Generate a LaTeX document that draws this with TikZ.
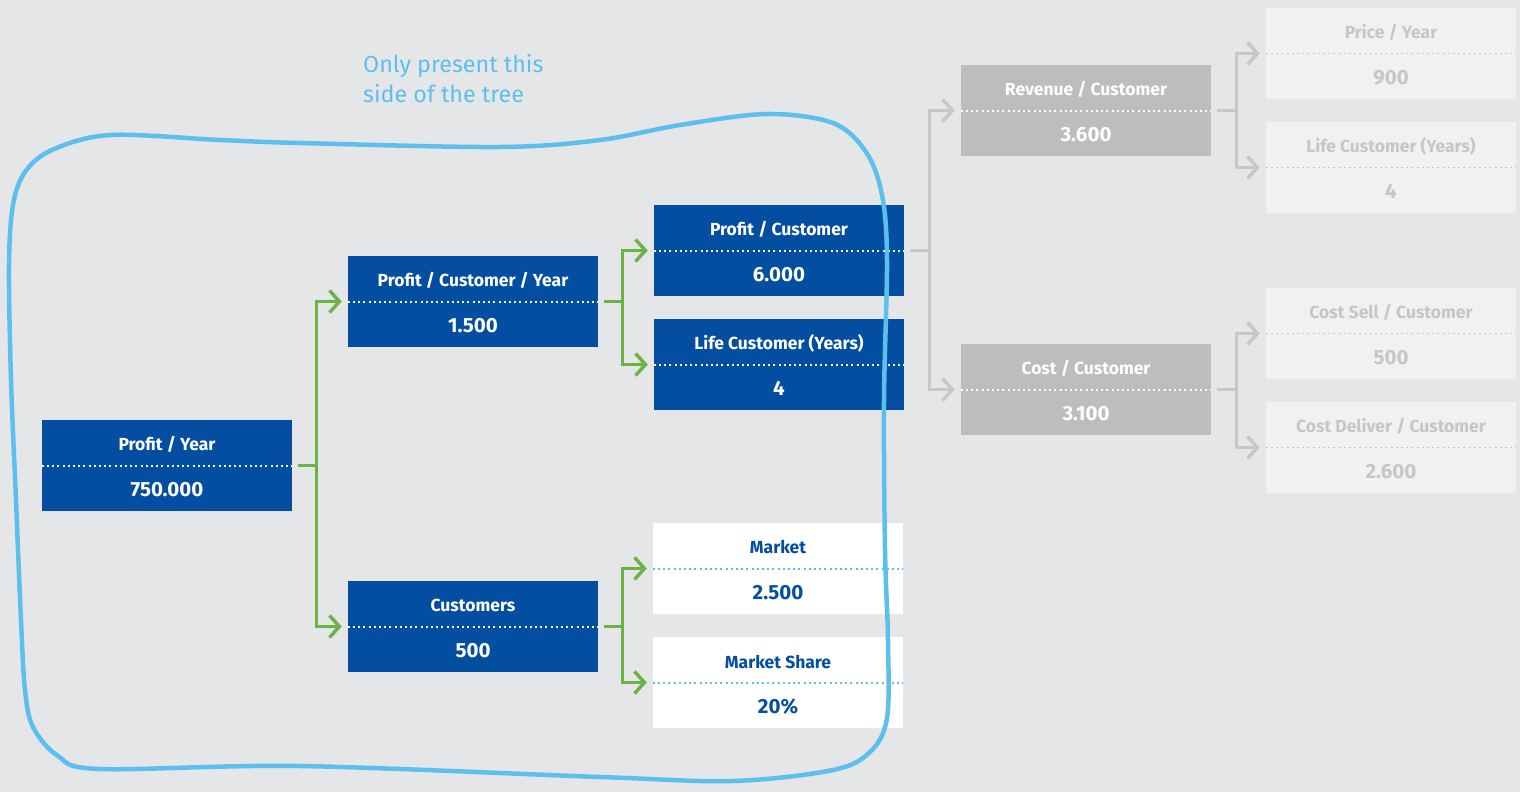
\documentclass[tikz,border=0pt]{standalone}
\usepackage{fontspec}
\setmainfont{Fira Sans}
\usetikzlibrary{arrows.meta}
\definecolor{bgc}{HTML}{E5E6E8}
\definecolor{dblue}{HTML}{044EA1}
\definecolor{lgreen}{HTML}{6AB344}
\definecolor{sky}{HTML}{5DC0EC}
\definecolor{gbox}{HTML}{BCBDBF}
\definecolor{gline}{HTML}{C6C7C9}
\definecolor{pbox}{HTML}{F1F1F2}
\definecolor{ptext}{HTML}{C5C6C8}
\tikzset{
  box/.style={rectangle, minimum width=250pt, minimum height=91pt, inner sep=0pt},
  bluebox/.style={box, fill=dblue},
  whitebox/.style={box, fill=white},
  graybox/.style={box, fill=gbox},
  palebox/.style={box, fill=pbox},
  txt/.style={font=\fontsize{17.5}{20}\selectfont\bfseries, inner sep=0pt, anchor=center},
  val/.style={font=\fontsize{20.5}{23}\selectfont\bfseries},
  wtxt/.style={txt, text=white},
  btxt/.style={txt, text=dblue},
  ptxt/.style={txt, text=ptext},
  divline/.style={line width=2pt, dash pattern=on 2pt off 3.2pt},
  conn/.style={line width=3.4pt, -{Straight Barb[length=10pt,width=22pt]}},
  gconn/.style={conn, lgreen},
  cconn/.style={conn, gline},
}
\begin{document}
\begin{tikzpicture}[x=1pt,y=-1pt]
\useasboundingbox (0,0) rectangle (1520,792);
\fill[bgc] (0,0) rectangle (1520,792);

% ---------- boxes ----------
\node[bluebox] (py) at (167,465.5) {};
\node[bluebox] (pcy) at (473,301.5) {};
\node[bluebox] (cu) at (473,626.5) {};
\node[bluebox] (pc) at (779,250.5) {};
\node[bluebox] (lc) at (779,364.5) {};
\node[whitebox] (mk) at (778,568.5) {};
\node[whitebox] (ms) at (778,682.5) {};
\node[graybox] (rc) at (1086,110.5) {};
\node[graybox] (cc) at (1086,389.5) {};
\node[palebox] (pyr) at (1391,53.5) {};
\node[palebox] (lcr) at (1391,167.5) {};
\node[palebox] (cs) at (1391,333.5) {};
\node[palebox] (cd) at (1391,447.5) {};

% dividers
\foreach \n in {py,pcy,cu,pc,lc}{\draw[divline, white] (\n.west) -- (\n.east);}
\foreach \n in {rc,cc}{\draw[divline, white] (\n.west) -- (\n.east);}
\foreach \n in {mk,ms}{\draw[divline, sky] (\n.west) -- (\n.east);}
\foreach \n in {pyr,lcr,cs,cd}{\draw[divline, ptext, line width=1.5pt] (\n.west) -- (\n.east);}

% texts
\node[wtxt] (py-t) at ([yshift=21pt]py.center) {Profit / Year};
\node[wtxt,val] (py-v) at ([yshift=-24pt]py.center) {750.000};
\node[wtxt] (pcy-t) at ([yshift=21pt]pcy.center) {Profit / Customer / Year};
\node[wtxt,val] (pcy-v) at ([yshift=-24pt]pcy.center) {1.500};
\node[wtxt] (cu-t) at ([yshift=21pt]cu.center) {Customers};
\node[wtxt,val] (cu-v) at ([yshift=-24pt]cu.center) {500};
\node[wtxt] (pc-t) at ([yshift=21pt]pc.center) {Profit / Customer};
\node[wtxt,val] (pc-v) at ([yshift=-24pt]pc.center) {6.000};
\node[wtxt] (lc-t) at ([yshift=21pt]lc.center) {Life Customer (Years)};
\node[wtxt,val] (lc-v) at ([yshift=-24pt]lc.center) {4};
\node[btxt] (mk-t) at ([yshift=21pt]mk.center) {Market};
\node[btxt,val] (mk-v) at ([yshift=-24pt]mk.center) {2.500};
\node[btxt] (ms-t) at ([yshift=21pt]ms.center) {Market Share};
\node[btxt,val] (ms-v) at ([yshift=-24pt]ms.center) {20\%};
\node[wtxt] (rc-t) at ([yshift=21pt]rc.center) {Revenue / Customer};
\node[wtxt,val] (rc-v) at ([yshift=-24pt]rc.center) {3.600};
\node[wtxt] (cc-t) at ([yshift=21pt]cc.center) {Cost / Customer};
\node[wtxt,val] (cc-v) at ([yshift=-24pt]cc.center) {3.100};
\node[ptxt] (pyr-t) at ([yshift=21pt]pyr.center) {Price / Year};
\node[ptxt,val] (pyr-v) at ([yshift=-24pt]pyr.center) {900};
\node[ptxt] (lcr-t) at ([yshift=21pt]lcr.center) {Life Customer (Years)};
\node[ptxt,val] (lcr-v) at ([yshift=-24pt]lcr.center) {4};
\node[ptxt] (cs-t) at ([yshift=21pt]cs.center) {Cost Sell / Customer};
\node[ptxt,val] (cs-v) at ([yshift=-24pt]cs.center) {500};
\node[ptxt] (cd-t) at ([yshift=21pt]cd.center) {Cost Deliver / Customer};
\node[ptxt,val] (cd-v) at ([yshift=-24pt]cd.center) {2.600};

% ---------- connectors ----------
\foreach \a/\b in {py/pcy, py/cu, pcy/pc, pcy/lc, cu/mk, cu/ms}{
  \draw[gconn] ([xshift=6pt]\a.east) -- ++(18,0) |- ([xshift=-6pt]\b.west);
}
\foreach \a/\b in {pc/rc, pc/cc, rc/pyr, rc/lcr, cc/cs, cc/cd}{
  \draw[cconn] ([xshift=6pt]\a.east) -- ++(19,0) |- ([xshift=-6pt]\b.west);
}

% ---------- hand-drawn outline ----------
\draw[sky, line width=4.5pt, line cap=round, line join=round]
  plot[smooth cycle, tension=0.55] coordinates {
    (110,135) (220,140) (300,143) (500,147) (600,140) (680,125) (767,114)
    (833,123) (866,152) (882,195) (887,260) (884,400) (885,550) (888,640)
    (887,718) (870,752) (833,770) (733,781) (600,777) (300,766) (100,769)
    (58,756) (33,727) (25,690) (21,620) (16,500) (11,380) (9,265)
    (13,205) (25,172) (52,150)
  };

% ---------- note ----------
\node[sky, font=\fontsize{23.3}{30}\selectfont, align=left, anchor=north west, inner sep=0pt] (note) at (363,54)
  {Only present this\\side of the tree};
\end{tikzpicture}
\end{document}
